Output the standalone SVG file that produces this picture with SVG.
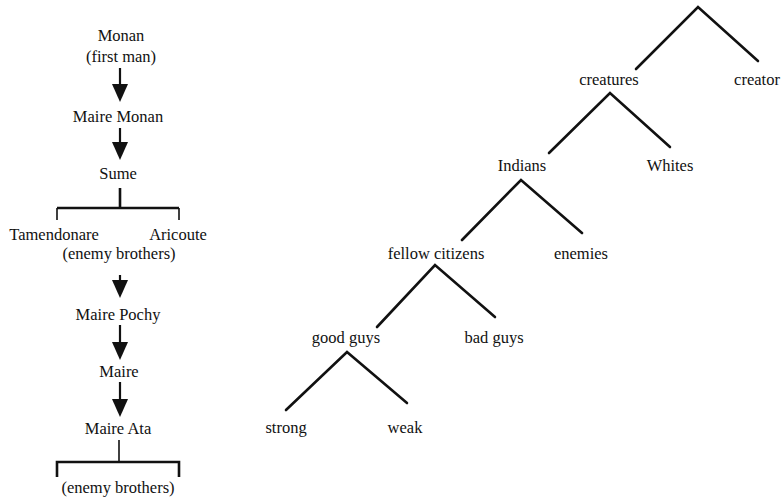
<svg xmlns="http://www.w3.org/2000/svg" width="784" height="500" viewBox="0 0 784 500">
<style>
.lbl{font-family:'Liberation Serif','Times New Roman','DejaVu Serif',serif;font-size:16.5px;fill:#111;text-anchor:middle}
.t{stroke:#111;stroke-width:2.6;fill:none;stroke-linecap:round}
.a{stroke:#111;stroke-width:2.2;fill:none}
.b{stroke:#111;stroke-width:1.6;fill:none}
.bb{stroke:#111;stroke-width:2.6;fill:none}
</style>
<defs>
<marker id="ah" markerUnits="userSpaceOnUse" markerWidth="18" markerHeight="16" refX="8" refY="8" orient="auto" viewBox="0 0 18 16">
<path d="M0,0 L18,8 L0,16 Z" fill="#111"/>
</marker>
</defs>
<rect width="784" height="500" fill="#fff"/>
<g id="connectors">
<line class="a" x1="120" y1="68" x2="120" y2="92" marker-end="url(#ah)"/>
<line class="a" x1="120" y1="128" x2="120" y2="150" marker-end="url(#ah)"/>
<line class="a" x1="120" y1="275" x2="120" y2="288" marker-end="url(#ah)"/>
<line class="a" x1="120" y1="325" x2="120" y2="350" marker-end="url(#ah)"/>
<line class="a" x1="120" y1="382" x2="120" y2="407" marker-end="url(#ah)"/>
<path class="bb" d="M120,188 V208"/>
<path class="bb" d="M57,208 H179"/>
<path class="b" d="M57,208 V220 M179,208 V220"/>
<path class="b" d="M119,440 V462"/>
<path class="bb" d="M57,477 V462 H179 V477"/>
<path class="t" d="M636,69 L698,7 L758,61"/>
<path class="t" d="M549,153 L610,93 L670,147"/>
<path class="t" d="M462,240 L521,180 L582,233"/>
<path class="t" d="M377,327 L435,265 L495,317"/>
<path class="t" d="M286,410 L347,352 L407,403"/>
</g>
<g class="lbl" font-family="Liberation Serif, serif">
<g id="n-monan"><text x="121" y="41">Monan</text><text x="121" y="62">(first man)</text></g>
<g id="n-maire-monan"><text x="118" y="122">Maire Monan</text></g>
<g id="n-sume"><text x="118" y="179">Sume</text></g>
<g id="n-tamendonare"><text x="54" y="240">Tamendonare</text></g>
<g id="n-aricoute"><text x="178" y="240">Aricoute</text></g>
<g id="n-enemy1"><text x="119" y="259">(enemy brothers)</text></g>
<g id="n-maire-pochy"><text x="118" y="320">Maire Pochy</text></g>
<g id="n-maire"><text x="119" y="377">Maire</text></g>
<g id="n-maire-ata"><text x="118" y="434">Maire Ata</text></g>
<g id="n-enemy2"><text x="118" y="493">(enemy brothers)</text></g>
<g id="n-creatures"><text x="609" y="85">creatures</text></g>
<g id="n-creator"><text x="757" y="85">creator</text></g>
<g id="n-indians"><text x="522" y="171">Indians</text></g>
<g id="n-whites"><text x="670" y="171">Whites</text></g>
<g id="n-fellow"><text x="436" y="259">fellow citizens</text></g>
<g id="n-enemies"><text x="581" y="259">enemies</text></g>
<g id="n-good"><text x="346" y="343">good guys</text></g>
<g id="n-bad"><text x="494" y="343">bad guys</text></g>
<g id="n-strong"><text x="286" y="433">strong</text></g>
<g id="n-weak"><text x="405" y="433">weak</text></g>
</g>
</svg>
